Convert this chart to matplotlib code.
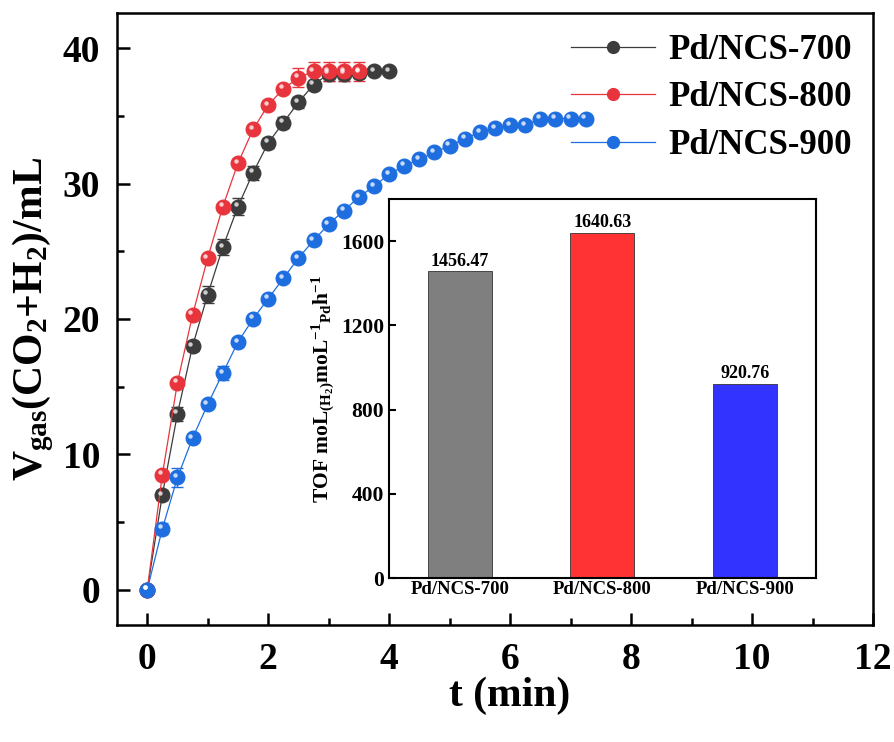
import matplotlib
matplotlib.use("Agg")
import matplotlib.pyplot as plt
import numpy as np
from matplotlib.lines import Line2D
from matplotlib.transforms import offset_copy
from matplotlib.ticker import MultipleLocator

plt.rcParams["font.family"] = "Liberation Serif"
plt.rcParams["font.weight"] = "bold"
plt.rcParams["mathtext.fontset"] = "custom"
plt.rcParams["mathtext.rm"] = "Liberation Serif:bold"
plt.rcParams["mathtext.it"] = "Liberation Serif:bold"
plt.rcParams["mathtext.bf"] = "Liberation Serif:bold"

# kinetics data
t_700 = [0, 0.25, 0.5, 0.75, 1.0, 1.25, 1.5, 1.75, 2.0, 2.25, 2.5, 2.75, 3.0, 3.25, 3.5, 3.75, 4.0]
v_700 = [0, 7.0, 13.0, 18.0, 21.8, 25.3, 28.3, 30.8, 33.0, 34.5, 36.0, 37.3, 38.1, 38.1, 38.2, 38.3, 38.3]
e_700 = [0, 0.4, 0.5, 0.4, 0.6, 0.6, 0.6, 0.5, 0.4, 0.4, 0.4, 0.3, 0.5, 0.5, 0.4, 0, 0]

t_800 = [0, 0.25, 0.5, 0.75, 1.0, 1.25, 1.5, 1.75, 2.0, 2.25, 2.5, 2.75, 3.0, 3.25, 3.5]
v_800 = [0, 8.5, 15.3, 20.3, 24.5, 28.3, 31.5, 34.0, 35.8, 37.0, 37.8, 38.3, 38.3, 38.3, 38.3]
e_800 = [0, 0.2, 0.2, 0.2, 0.2, 0.2, 0.2, 0.2, 0.2, 0.2, 0.7, 0.7, 0.7, 0.7, 0.7]

t_900 = [0, 0.25, 0.5, 0.75, 1.0, 1.25, 1.5, 1.75, 2.0, 2.25, 2.5, 2.75, 3.0, 3.25, 3.5,
         3.75, 4.0, 4.25, 4.5, 4.75, 5.0, 5.25, 5.5, 5.75, 6.0, 6.25, 6.5, 6.75, 7.0, 7.25]
v_900 = [0, 4.5, 8.3, 11.2, 13.7, 16.0, 18.3, 20.0, 21.5, 23.0, 24.5, 25.8, 27.0, 28.0, 29.0,
         29.8, 30.7, 31.3, 31.8, 32.3, 32.8, 33.3, 33.8, 34.1, 34.3, 34.3, 34.8, 34.8, 34.8, 34.8]
e_900 = [0, 0.4, 0.7, 0.3, 0.3, 0.5, 0.3, 0.3, 0.3, 0.2, 0.2, 0.2, 0.2, 0.2, 0.2,
         0.2, 0.2, 0.2, 0.2, 0.2, 0.2, 0.2, 0.2, 0.2, 0.2, 0.2, 0.2, 0.2, 0.2, 0.2]

# TOF data
catalysts = ["Pd/NCS-700", "Pd/NCS-800", "Pd/NCS-900"]
tof = [1456.47, 1640.63, 920.76]

SERIES = [
    ("Pd/NCS-700", t_700, v_700, e_700, "#3c3c3c"),
    ("Pd/NCS-800", t_800, v_800, e_800, "#e8353d"),
    ("Pd/NCS-900", t_900, v_900, e_900, "#1f6ee0"),
]
BAR_COLORS = ["#7f7f7f", "#ff3333", "#3333ff"]

fig = plt.figure(figsize=(8.95, 7.42), dpi=100)
ax = fig.add_axes([0.1307, 0.1577, 0.8447, 0.8248])

hl = offset_copy(ax.transData, fig=fig, x=-1.6, y=1.8, units="points")
handles = []
for label, t, v, e, c in SERIES:
    ax.errorbar(t, v, yerr=e, color=c, linewidth=0.9, elinewidth=1.0,
                capsize=4, capthick=1.0, marker="o", markersize=10.5,
                markerfacecolor=c, markeredgecolor=c, zorder=3)
    ax.plot(t, v, linestyle="none", marker="o", markersize=3.2,
            markerfacecolor="white", markeredgecolor="none", alpha=0.75,
            transform=hl, zorder=4)
    handles.append(Line2D([], [], color=c, linewidth=0.9, marker="o", markersize=8.5,
                          markerfacecolor=c, markeredgecolor=c, label=label))

ax.set_xlim(-0.5, 12)
ax.set_ylim(-2.6, 42.6)
ax.xaxis.set_major_locator(MultipleLocator(2))
ax.xaxis.set_minor_locator(MultipleLocator(1))
ax.yaxis.set_major_locator(MultipleLocator(10))
ax.yaxis.set_minor_locator(MultipleLocator(5))
ax.tick_params(which="both", direction="in", width=1.8, labelsize=27)
ax.tick_params(which="major", length=9, pad=12)
ax.tick_params(which="minor", length=5)
for sp in ax.spines.values():
    sp.set_linewidth(1.8)
ax.set_xlabel("t (min)", fontsize=30, fontweight="bold")
ax.xaxis.set_label_coords(0.52, -0.085)
ax.set_ylabel(r"V$_{\rm gas}$(CO$_2$+H$_2$)/mL", fontsize=30, fontweight="bold", labelpad=5)

ax.legend(handles=handles, loc="upper right", bbox_to_anchor=(1.0, 1.0), frameon=False,
          fontsize=25, handlelength=2.4, handletextpad=0.4,
          labelspacing=0.42, borderaxespad=0.2)

# inset bar chart
ins = fig.add_axes([0.4346, 0.221, 0.4771, 0.5108])
x = np.arange(len(catalysts))
ins.bar(x, tof, width=0.45, color=BAR_COLORS, edgecolor="#333333", linewidth=0.6, zorder=2)
for xi, val in zip(x, tof):
    ins.text(xi, val + 8, f"{val:.2f}", ha="center", va="bottom", fontsize=13, fontweight="bold")
ins.set_xlim(-0.5, 2.5)
ins.set_ylim(0, 1800)
ins.set_xticks(x)
ins.set_xticklabels(catalysts, fontsize=13.5, fontweight="bold")
ins.yaxis.set_major_locator(MultipleLocator(400))
ins.tick_params(axis="y", direction="in", length=5, width=1.5, labelsize=15.5)
ins.tick_params(axis="x", length=0, pad=2)
for sp in ins.spines.values():
    sp.set_linewidth(1.5)
ins.set_ylabel(r"TOF moL$_{(\rm H_2)}$moL$^{-1}$$_{\rm Pd}$h$^{-1}$", fontsize=15.5, fontweight="bold", labelpad=3)

fig.savefig("out.png", dpi=100)
